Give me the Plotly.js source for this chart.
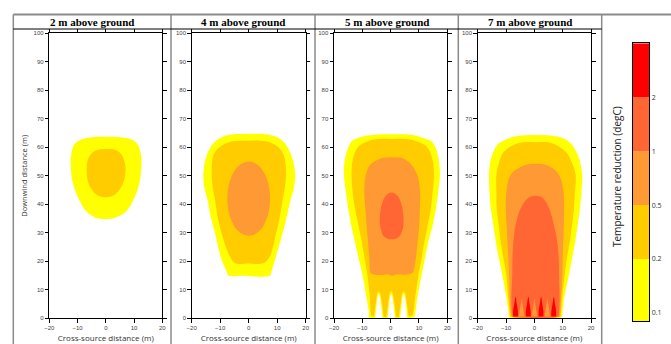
<!DOCTYPE html>
<html>
<head>
<meta charset="utf-8">
<script src="https://cdn.plot.ly/plotly-3.0.1.min.js"></script>
<style>html,body{margin:0;padding:0;background:#fff}#chart{width:671px;height:344px}</style>
</head>
<body>
<div id="chart"></div>
<script>
// ---- Data ----
const panelTitles = ['2 m above ground', '4 m above ground', '5 m above ground', '7 m above ground'];
const levelLabels = ['0.1', '0.2', '0.5', '1', '2'];
const levelColors = ['#FFFF00', '#FFCC00', '#FF9933', '#FF6633', '#FF0000'];
const xTicks = [-20, -10, 0, 10, 20];

// Panel 1 (2 m)
const p1_l1_x = [0, 5, 9, 11.3, 12.5, 12.5, 11.8, 10, 7.2, 3, 0, -3, -6.8, -9.7, -11.5, -12.3, -12.3, -11.2, -8.5, -5, 0];
const p1_l1_y = [63.7, 63.5, 62.8, 61, 57, 52, 47, 42, 37.5, 35.2, 34.8, 35.1, 37.4, 42.1, 46.8, 51.4, 57, 61, 62.8, 63.5, 63.7];
const p1_l2_x = [0, 3, 5.3, 6.6, 7, 6.6, 5.4, 3, 0, -3, -5.4, -6.5, -6.8, -6.4, -5, -2.5, 0];
const p1_l2_y = [59.4, 59.2, 57.8, 55, 52.5, 49, 46, 43.3, 42.5, 43.2, 45.8, 48.8, 52.5, 55.5, 57.9, 59.2, 59.4];

// Panel 2 (4 m)
const p2_l1_x = [0, 6, 10, 12.7, 15, 16.3, 15.9, 14.7, 13.2, 11.9, 10.5, 9.2, 8, 7.5, 2, -2, -7.1, -7.7, -9.5, -10.7, -11.8, -13.2, -14.4, -15.6, -15.9, -14.8, -12.4, -9.5, -6, 0];
const p2_l1_y = [64.7, 64.6, 63.5, 61.4, 57, 51, 46, 41.5, 35, 29.8, 25, 20.5, 16.5, 15, 14.7, 14.9, 15, 16.4, 20.5, 25, 29.8, 35, 41.5, 46, 51, 57, 61.4, 63.5, 64.5, 64.7];
const p2_l2_x = [0, 6, 10, 12.2, 13.1, 12.7, 11.9, 10.8, 9.6, 8.5, 7.3, 5.1, 0, -4.8, -6.5, -8, -9.5, -10.8, -11.8, -12.6, -13, -12.3, -10, -6, 0];
const p2_l2_y = [62.3, 62.1, 60.4, 57.5, 52, 46, 41.5, 35, 29.8, 25, 21.5, 19.3, 19.2, 19.3, 21.5, 25, 29.8, 35, 41.5, 46, 52, 57.5, 60.2, 62, 62.3];
const p2_l3_x = [0, 3.8, 6.5, 7.5, 6.5, 3.8, 0, -3.8, -6.5, -7.5, -6.5, -3.8, 0];
const p2_l3_y = [55, 53.3, 48.5, 42, 35.5, 30.7, 29, 30.7, 35.5, 42, 48.5, 53.3, 55];

// Panel 3 (5 m)
const p3_l1_x = [0.5, 7, 11.5, 14.5, 16.5, 17.4, 16.9, 16, 14.8, 13.3, 12.1, 10.9, 9.4, 8.6, 8.3, -7.8, -7.6, -8.5, -9.9, -11.3, -12.6, -13.9, -15, -15.9, -16.5, -16.1, -13.8, -10.5, -6, 0.5];
const p3_l1_y = [64.6, 64.4, 63.3, 62, 58, 51, 45, 38.6, 32.5, 26.9, 21, 15.2, 7, 1.2, 0.5, 0.5, 1.2, 7, 15.2, 21, 26.9, 32.5, 38.6, 45, 50.3, 56, 62, 63.6, 64.4, 64.6];
const p3_l2_x = [0.5, 7, 12.7, 14.7, 15.3, 14.8, 14.2, 13.1, 11.9, 10.9, 9.8, 8.6, 7.8, 7.5, -6.8, -7, -7.3, -8.2, -9.2, -10.2, -11.4, -12.6, -13.4, -13.8, -13.3, -11.4, -6, 0.5];
const p3_l2_y = [62.9, 62.7, 60.2, 56, 50.3, 44, 38.6, 32.7, 26.9, 21, 15.2, 7, 1.2, 0.9, 0.9, 1.5, 7, 15.2, 21, 26.9, 32.7, 38.6, 44, 50.3, 56, 60.2, 62.7, 62.9];
const p3_l3_x = [0.5, 4.5, 7.4, 9.5, 10.4, 10.3, 10.1, 9.5, 8.9, 8.3, 7.8, 5, 2, 0.5, -1, -4, -6.9, -7.5, -8, -8.5, -8.9, -9.3, -8.8, -7.3, -3.5, 0.5];
const p3_l3_y = [56.5, 56.1, 53.8, 50, 44.4, 38, 32.7, 26.9, 21, 17.5, 16, 15.3, 15.4, 15, 15.4, 15.2, 15.8, 21, 26.9, 32.7, 38, 44.4, 50, 53.8, 56.1, 56.5];
const p3_l4_x = [0.35, 2.4, 3.8, 4.5, 4.3, 3, 0.35, -2.3, -3.5, -3.8, -3.1, -1.7, 0.35];
const p3_l4_y = [44.1, 43, 40, 35.5, 31.5, 28.6, 27.7, 28.6, 31.5, 35.5, 40, 43, 44.1];
// notches between the near-ground fingers (yellow fringe, then empty core)
const p3_notchEdge_x = [-6.0, -5.5, -4.8, -4.2, -3.6, -2.9, -2.4, null, -1.6, -1.1, -0.4, 0.2, 0.8, 1.5, 2.0, null, 2.8, 3.3, 4.0, 4.6, 5.2, 5.9, 6.4];
const p3_notchEdge_y = [0, 4, 8.6, 9.6, 8.6, 4, 0, null, 0, 4, 8.6, 9.6, 8.6, 4, 0, null, 0, 4, 8.6, 9.6, 8.6, 4, 0];
const p3_notchCore_x = [-5.5, -5.1, -4.6, -4.2, -3.8, -3.3, -2.9, null, -1.1, -0.7, -0.2, 0.2, 0.6, 1.1, 1.5, null, 3.3, 3.7, 4.2, 4.6, 5.0, 5.5, 5.9];
const p3_notchCore_y = [0, 4, 7.8, 8.6, 7.8, 4, 0, null, 0, 4, 7.8, 8.6, 7.8, 4, 0, null, 0, 4, 7.8, 8.6, 7.8, 4, 0];

// Panel 4 (7 m)
const p4_l1_x = [0.5, 7, 11, 13.4, 15.8, 16.9, 16.6, 16.1, 15.3, 14.4, 13.3, 12.2, 10.5, 9.8, 9.6, -8.9, -9.0, -9.8, -11.3, -12.5, -13.6, -14.5, -15.4, -15.8, -16, -15.3, -13.1, -10, -6, 0.5];
const p4_l1_y = [64.3, 64, 62.8, 60.8, 56, 50.3, 44, 38.6, 32.7, 26.9, 21, 15.2, 7, 1.2, 0.4, 0.4, 1.2, 7, 15.2, 21, 26.9, 32.7, 38.6, 44, 50.3, 56, 60.8, 62.8, 64, 64.3];
const p4_l2_x = [0.5, 6, 11, 13.3, 14.6, 14.3, 14, 13.3, 12.5, 11.5, 10.7, 9.8, 9.4, 9.3, -8.5, -8.6, -9.2, -9.9, -10.9, -11.9, -12.6, -13.3, -13.4, -13.4, -12.5, -10.7, -5.5, 0.5];
const p4_l2_y = [61.8, 61.5, 58.5, 54.5, 50, 44, 38.6, 32.7, 26.9, 21, 15.2, 7, 1.2, 0.6, 0.6, 1.2, 7, 15.2, 21, 26.9, 32.7, 38.6, 44, 50, 54.5, 58.5, 61.5, 61.8];
const p4_l3_x = [0.5, 5, 8.7, 10.2, 10.5, 10.4, 10.2, 10, 9.9, 9.4, 9.0, 8.9, -8.1, -8.2, -8.7, -8.9, -9.2, -9.5, -9.8, -10.1, -9.8, -8.4, -4, 0.5];
const p4_l3_y = [54.2, 53.5, 50.3, 45, 38.6, 32.7, 26.9, 21, 15.2, 7, 1, 0.6, 0.6, 1, 7, 15.2, 21, 26.9, 32.7, 38.6, 45, 50.3, 53.5, 54.2];
const p4_l4_x = [0.5, 3, 5.2, 6.9, 8.1, 8.6, 8.7, 8.9, 8.6, 8.4, -7.6, -7.8, -8.1, -7.8, -7.7, -7.4, -6.6, -4.8, -2.2, 0.5];
const p4_l4_y = [43, 42.2, 38.6, 32.7, 26.9, 21, 15.2, 7, 1, 0.6, 0.6, 1, 7, 15.2, 21, 26.9, 32.7, 38.6, 42.2, 43];
// lighter notches between the red near-ground spots
const p4_notch_x = [-5.5, -5.0, -4.5, -4.0, -3.5, null, -1.0, -0.5, 0, 0.5, 1.0, null, 3.6, 4.1, 4.6, 5.1, 5.6];
const p4_notch_y = [0.6, 4, 7, 4, 0.6, null, 0.6, 4, 7, 4, 0.6, null, 0.6, 4, 7, 4, 0.6];
// red spots (> 2 degC) near the ground
const p4_l5_x = [-7.5, -7.5, -7.1, -6.6, -6.2, -5.8, -5.8, null, -3.0, -3.0, -2.6, -2.1, -1.7, -1.3, -1.3, null, 1.5, 1.5, 1.9, 2.4, 2.8, 3.2, 3.2, null, 6.0, 6.0, 6.4, 6.9, 7.3, 7.7, 7.7];
const p4_l5_y = [0.6, 2.5, 5, 7.6, 5, 2.5, 0.6, null, 0.6, 2.5, 5, 7.6, 5, 2.5, 0.6, null, 0.6, 2.5, 5, 7.6, 5, 2.5, 0.6, null, 0.6, 2.5, 5, 7.6, 5, 2.5, 0.6];

// Colour-bar segments (one per level band)
const cbBase = [-0.15, 1, 2, 3, 4];
const cbSize = [1.15, 1, 1, 1, 1];

// ---- Build traces ----
function area(xs, ys, color, n, shape) {
  return {
    type: 'scatter', mode: 'lines', x: xs, y: ys,
    xaxis: n === 1 ? 'x' : 'x' + n, yaxis: n === 1 ? 'y' : 'y' + n,
    fill: 'toself', fillcolor: color,
    line: {width: 0, color: color, shape: shape || 'spline', smoothing: 1},
    hoverinfo: 'skip', showlegend: false
  };
}
const C = levelColors;
const traces = [
  area(p1_l1_x, p1_l1_y, C[0], 1), area(p1_l2_x, p1_l2_y, C[1], 1),
  area(p2_l1_x, p2_l1_y, C[0], 2), area(p2_l2_x, p2_l2_y, C[1], 2), area(p2_l3_x, p2_l3_y, C[2], 2),
  area(p3_l1_x, p3_l1_y, C[0], 3), area(p3_l2_x, p3_l2_y, C[1], 3), area(p3_l3_x, p3_l3_y, C[2], 3), area(p3_l4_x, p3_l4_y, C[3], 3),
  area(p3_notchEdge_x, p3_notchEdge_y, C[0], 3, 'linear'), area(p3_notchCore_x, p3_notchCore_y, '#FFFFFF', 3, 'linear'),
  area(p4_l1_x, p4_l1_y, C[0], 4), area(p4_l2_x, p4_l2_y, C[1], 4), area(p4_l3_x, p4_l3_y, C[2], 4), area(p4_l4_x, p4_l4_y, C[3], 4),
  area(p4_notch_x, p4_notch_y, C[2], 4, 'linear'), area(p4_l5_x, p4_l5_y, C[4], 4, 'spline'),
  {
    type: 'bar', x: levelLabels.map(() => 0), y: cbSize, base: cbBase, width: 1,
    marker: {color: levelColors, line: {width: 0}},
    xaxis: 'x5', yaxis: 'y5', hoverinfo: 'skip', showlegend: false
  }
];

// ---- Layout ----
const W = 671, H = 344;
const px = v => v / W, py = v => 1 - v / H;
const xDom = [[49.3, 162.3], [191.7, 305.7], [334, 447.3], [477.7, 591]];
const yDom = [py(318.3), py(33.3)];
const tickFont = {family: 'Liberation Sans, Arial, sans-serif', size: 6, color: '#444'};

const layout = {
  width: W, height: H, margin: {l: 0, r: 0, t: 0, b: 0},
  paper_bgcolor: '#fff', plot_bgcolor: '#fff', showlegend: false,
  barmode: 'overlay', font: {family: 'Open Sans, sans-serif'},
  shapes: [], annotations: []
};
xDom.forEach((d, i) => {
  const n = i + 1, sx = n === 1 ? '' : n;
  layout['xaxis' + sx] = {
    domain: [px(d[0]), px(d[1])], range: [-20, 20], tickvals: xTicks, anchor: 'y' + sx,
    ticks: 'outside', ticklen: 3.5, tickwidth: 1, tickcolor: '#000',
    showline: true, linecolor: '#000', linewidth: 1, mirror: 'ticks',
    showgrid: false, zeroline: false, fixedrange: true, tickfont: tickFont,
    title: {text: 'Cross-source distance (m)', standoff: 5, font: {family: 'Open Sans, sans-serif', size: 8, color: '#333'}}
  };
  layout['yaxis' + sx] = {
    domain: yDom, range: [0, 100], dtick: 10, anchor: 'x' + sx,
    ticks: 'outside', ticklen: 3.5, tickwidth: 1, tickcolor: '#000',
    showline: true, linecolor: '#000', linewidth: 1, mirror: 'ticks',
    showgrid: false, zeroline: false, fixedrange: true, tickfont: tickFont,
    title: n === 1 ? {text: 'Downwind distance (m)', standoff: 4, font: {family: 'Open Sans, sans-serif', size: 7.5, color: '#333'}} : {text: ''}
  };
});
layout.xaxis5 = {
  domain: [px(632.7), px(649.3)], range: [-0.5, 0.5], anchor: 'y5',
  showticklabels: false, ticks: '', showline: true, mirror: true, linecolor: '#000', linewidth: 1,
  showgrid: false, zeroline: false, fixedrange: true
};
layout.yaxis5 = {
  domain: [py(321), py(43.3)], range: [-0.15, 5], anchor: 'x5', side: 'right',
  tickvals: [0, 1, 2, 3, 4], ticktext: levelLabels, ticks: '',
  showline: true, mirror: true, linecolor: '#000', linewidth: 1,
  showgrid: false, zeroline: false, fixedrange: true,
  tickfont: {family: 'Open Sans, sans-serif', size: 7, color: '#333'}
};

// Panel frames
const frameX = [13.3, 171, 315, 458.3, 601.7];
const gray = '#8a8a8a';
layout.shapes.push({type: 'line', xref: 'paper', yref: 'paper', x0: px(13.3), x1: 1, y0: py(14.5), y1: py(14.5), line: {color: gray, width: 2}});
frameX.forEach(x => layout.shapes.push({type: 'line', xref: 'paper', yref: 'paper', x0: px(x), x1: px(x), y0: py(14.5), y1: 0, line: {color: gray, width: 1.5}}));
layout.shapes.push({type: 'line', xref: 'paper', yref: 'paper', x0: px(13.3), x1: px(601.7), y0: py(29), y1: py(29), line: {color: '#000', width: 1}});

panelTitles.forEach((t, i) => {
  layout.annotations.push({
    text: '<b>' + t + '</b>', xref: 'paper', yref: 'paper',
    x: px((frameX[i] + frameX[i + 1]) / 2), y: py(22.3), xanchor: 'center', yanchor: 'middle',
    showarrow: false, font: {family: 'Liberation Serif, Times New Roman, serif', size: 11, color: '#000'}
  });
});
layout.annotations.push({
  text: 'Temperature reduction (degC)', xref: 'paper', yref: 'paper',
  x: px(617), y: py(177), xanchor: 'center', yanchor: 'middle', textangle: -90,
  showarrow: false, font: {family: 'Open Sans, sans-serif', size: 10, color: '#222'}
});

Plotly.newPlot('chart', traces, layout, {staticPlot: true, displayModeBar: false});
</script>
</body>
</html>
